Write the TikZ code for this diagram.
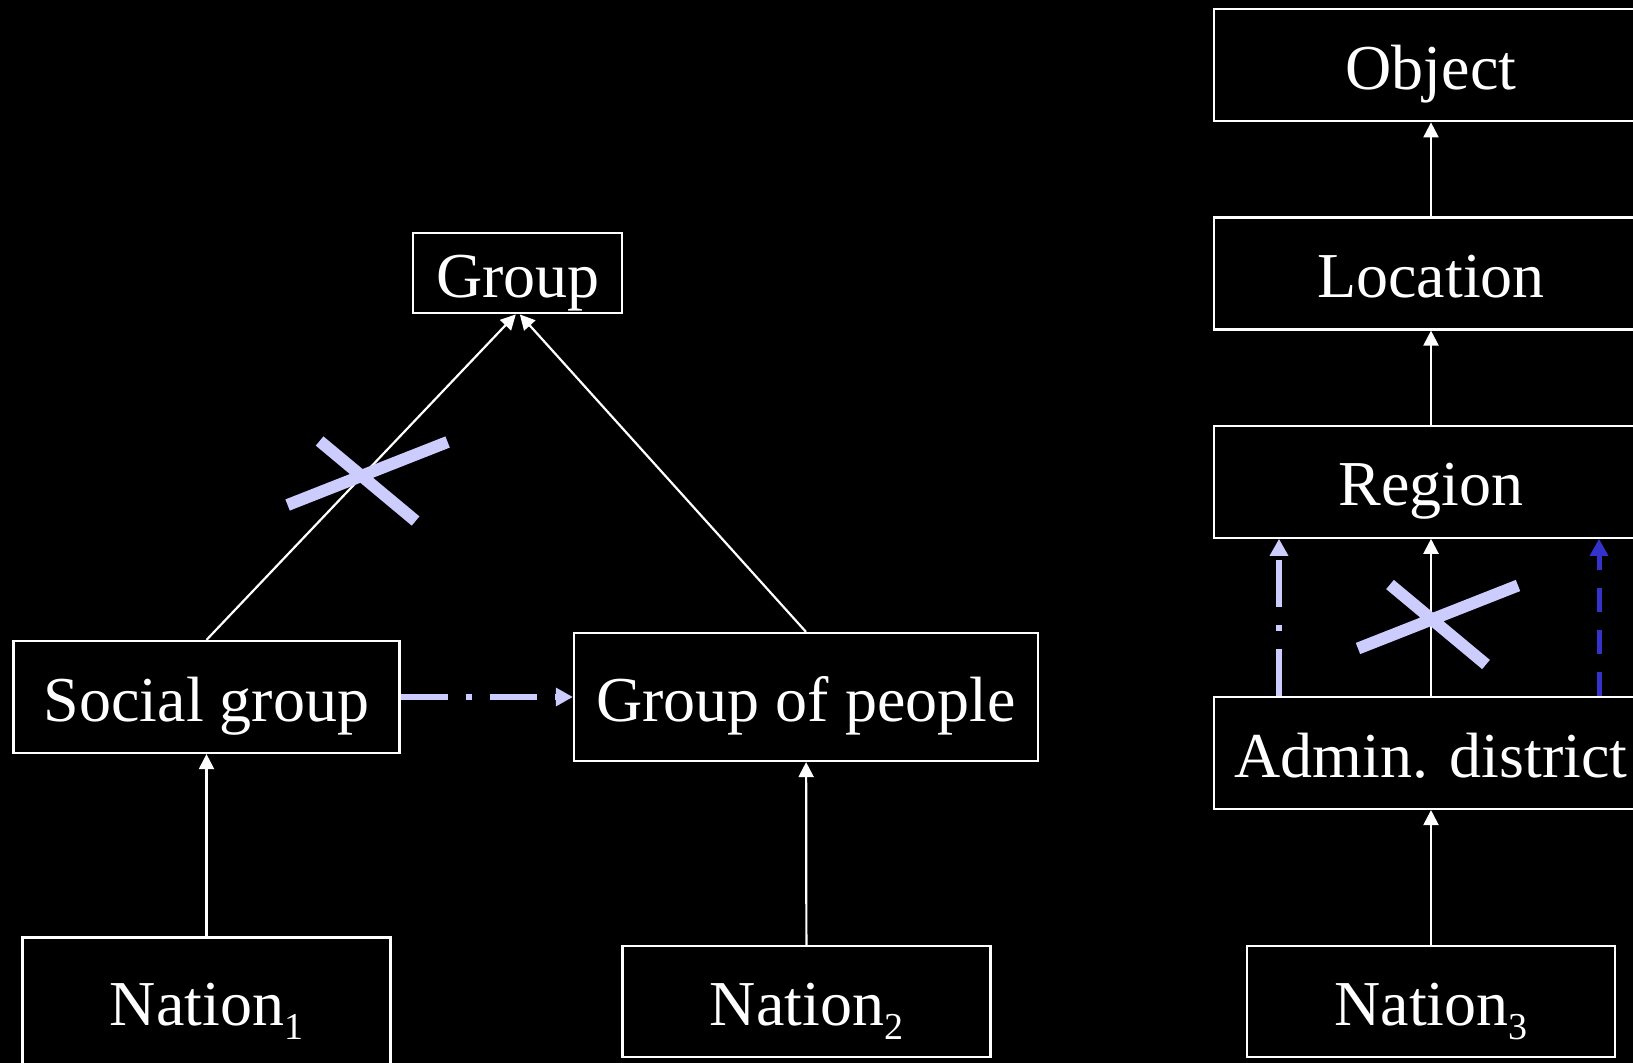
\documentclass[tikz,border=0pt]{standalone}
\usepackage{fontspec}
\setmainfont{Liberation Serif}
\usetikzlibrary{arrows.meta}
\definecolor{palelilac}{HTML}{CCCCFF}
\definecolor{deepblue}{HTML}{3333CC}
\newcommand{\natidx}[1]{\raisebox{-7pt}{\fontsize{19}{19}\selectfont #1}}
\tikzset{
  box/.style={draw=white, line width=1.1pt, text=white, inner sep=0pt,
    text height=24pt, text depth=0pt},
  isa/.style={color=white, line width=1.1pt,
    -{Triangle[length=7.5pt, width=7.5pt]}},
  mapsto/.style={color=palelilac, line width=3pt,
    dash pattern=on 23.5pt off 9pt on 3pt off 9pt,
    -{Triangle[length=8.5pt, width=8.8pt]}},
  linkto/.style={color=deepblue, line width=2.5pt,
    dash pattern=on 12pt off 9pt,
    -{Triangle[length=8.5pt, width=8.8pt]}},
  crossbar/.style={draw=palelilac, line width=6pt},
  nocross/.pic={\draw[crossbar] (-73,29) -- (87,-34) (-41,-35) -- (55,45);}
}
\begin{document}
\begin{tikzpicture}[x=0.5pt, y=-0.5pt,
  every node/.style={font=\fontsize{32}{38}\selectfont}]
\useasboundingbox (0,0) rectangle (1633,1063);
\fill[black] (0,0) rectangle (1633,1063);
\clip (0,0) rectangle (1633,1063);
\node[box, minimum width=104.5pt, minimum height=40pt] (Grp) at (517.8,273.3) {Group};
\node[box, minimum width=193pt, minimum height=56pt] (Soc) at (206.5,697) {Social group};
\node[box, minimum width=232pt, minimum height=64pt] (Ppl) at (806,697) {Group of people};
\node[box, minimum width=184pt, minimum height=64pt] (N1) at (206.5,1001.5) {Nation\natidx{1}};
\node[box, minimum width=184pt, minimum height=55.5pt] (N2) at (806.5,1001.5) {Nation\natidx{2}};
\node[box, minimum width=217pt, minimum height=56pt] (Obj) at (1431,65.3) {Object};
\node[box, minimum width=217pt, minimum height=56pt] (Loc) at (1431,273.5) {Location};
\node[box, minimum width=217pt, minimum height=56pt] (Reg) at (1431,481.7) {Region};
\node[box, minimum width=217pt, minimum height=56pt] (Adm) at (1431,753) {Admin. district};
\node[box, minimum width=184pt, minimum height=55.5pt] (N3) at (1431,1001.5) {Nation\natidx{3}};
\path[every edge/.style={draw, isa}]
  (N1) edge (Soc)
  (N2) edge (Ppl)
  (Soc.north) edge ([xshift=-1pt]Grp.south)
  (Ppl.north) edge ([xshift=1pt]Grp.south)
  (N3) edge (Adm)
  (Adm) edge (Reg)
  (Reg) edge (Loc)
  (Loc) edge (Obj);
\draw[mapsto] (Soc.east) -- (Ppl.west);
\draw[mapsto] ([xshift=-76pt]Adm.north) -- ([xshift=-76pt]Reg.south);
\draw[linkto] ([xshift=84pt]Adm.north) -- ([xshift=84pt]Reg.south);
\pic at (360.6,476) {nocross};
\pic at (1431,619.5) {nocross};
\end{tikzpicture}
\end{document}
